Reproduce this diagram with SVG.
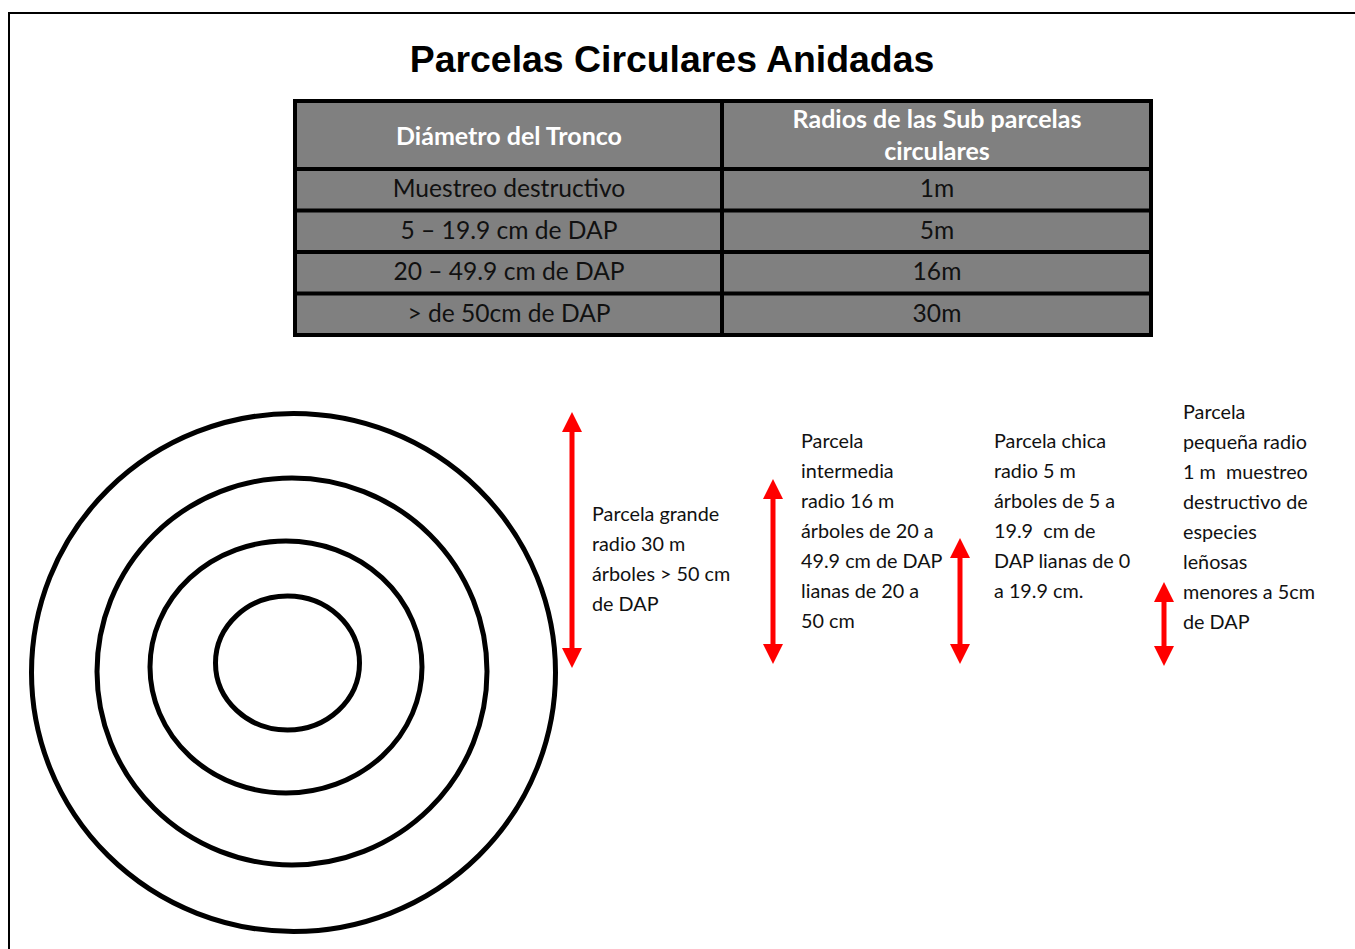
<svg xmlns="http://www.w3.org/2000/svg" width="1355" height="949" viewBox="0 0 1355 949">
<style>
.title{font-family:"Liberation Sans",Arial,sans-serif;font-weight:bold;font-size:37.4px;fill:#000}
.th{font-family:Lato,"Liberation Sans",sans-serif;font-weight:bold;font-size:25px;fill:#fff;text-anchor:middle}
.td{font-family:Lato,"Liberation Sans",sans-serif;font-size:24.6px;fill:#111;text-anchor:middle}
.lbl{font-family:Lato,"Liberation Sans",sans-serif;font-size:19.8px;fill:#111;white-space:pre}
.ring{fill:none;stroke:#000;stroke-width:5}
.arr{stroke:#ff0000;stroke-width:5;fill:none}
.grid{stroke:#000;stroke-width:4;fill:none}
</style>
<defs>
<marker id="ah" viewBox="0 0 10 10" refX="2" refY="5" markerWidth="4" markerHeight="4.2" orient="auto-start-reverse" markerUnits="strokeWidth">
<path d="M0,0 L10,5 L0,10 z" fill="#ff0000"/>
</marker>
</defs>
<rect width="1355" height="949" fill="#fff"/>
<path d="M9,949 V13 H1355" fill="none" stroke="#000" stroke-width="2"/>
<text class="title" x="672" y="72" text-anchor="middle">Parcelas Circulares Anidadas</text>
<g id="table">
<rect x="295" y="101" width="856" height="234" fill="#808080"/>
<path class="grid" d="M295,101 H1151 V335 H295 Z M722,101 V335 M295,169 H1151 M295,210.5 H1151 M295,252 H1151 M295,293.5 H1151"/>
<text class="th" x="509" y="145">Diámetro del Tronco</text>
<text class="th" x="937" y="128">Radios de las Sub parcelas</text>
<text class="th" x="937" y="160">circulares</text>
<text class="td" x="509" y="197">Muestreo destructivo</text>
<text class="td" x="509" y="239">5 – 19.9 cm de DAP</text>
<text class="td" x="509" y="280">20 – 49.9 cm de DAP</text>
<text class="td" x="509" y="322">&gt; de 50cm de DAP</text>
<text class="td" x="937" y="197">1m</text>
<text class="td" x="937" y="239">5m</text>
<text class="td" x="937" y="280">16m</text>
<text class="td" x="937" y="322">30m</text>
</g>
<g id="rings">
<ellipse class="ring" cx="293.5" cy="672.5" rx="262" ry="259"/>
<ellipse class="ring" cx="292" cy="671.5" rx="195" ry="193.5"/>
<ellipse class="ring" cx="286" cy="667" rx="136" ry="126"/>
<ellipse class="ring" cx="287.5" cy="663" rx="72" ry="67"/>
</g>
<g id="connectors">
<line class="arr" x1="572" y1="428" x2="572" y2="652" marker-start="url(#ah)" marker-end="url(#ah)"/>
<line class="arr" x1="773" y1="495" x2="773" y2="648" marker-start="url(#ah)" marker-end="url(#ah)"/>
<line class="arr" x1="960" y1="554" x2="960" y2="648" marker-start="url(#ah)" marker-end="url(#ah)"/>
<line class="arr" x1="1164" y1="598" x2="1164" y2="650" marker-start="url(#ah)" marker-end="url(#ah)"/>
</g>
<g id="label-grande">
<text class="lbl" x="592" y="521">Parcela grande</text>
<text class="lbl" x="592" y="551">radio 30 m</text>
<text class="lbl" x="592" y="581">árboles &gt; 50 cm</text>
<text class="lbl" x="592" y="611">de DAP</text>
</g>
<g id="label-intermedia">
<text class="lbl" x="801" y="448">Parcela</text>
<text class="lbl" x="801" y="478">intermedia</text>
<text class="lbl" x="801" y="508">radio 16 m</text>
<text class="lbl" x="801" y="538">árboles de 20 a</text>
<text class="lbl" x="801" y="568">49.9 cm de DAP</text>
<text class="lbl" x="801" y="598">lianas de 20 a</text>
<text class="lbl" x="801" y="628">50 cm</text>
</g>
<g id="label-chica">
<text class="lbl" x="994" y="448">Parcela chica</text>
<text class="lbl" x="994" y="478">radio 5 m</text>
<text class="lbl" x="994" y="508">árboles de 5 a</text>
<text class="lbl" x="994" y="538">19.9  cm de</text>
<text class="lbl" x="994" y="568">DAP lianas de 0</text>
<text class="lbl" x="994" y="598">a 19.9 cm.</text>
</g>
<g id="label-pequena">
<text class="lbl" x="1183" y="419">Parcela</text>
<text class="lbl" x="1183" y="449">pequeña radio</text>
<text class="lbl" x="1183" y="479">1 m  muestreo</text>
<text class="lbl" x="1183" y="509">destructivo de</text>
<text class="lbl" x="1183" y="539">especies</text>
<text class="lbl" x="1183" y="569">leñosas</text>
<text class="lbl" x="1183" y="599">menores a 5cm</text>
<text class="lbl" x="1183" y="629">de DAP</text>
</g>
</svg>
